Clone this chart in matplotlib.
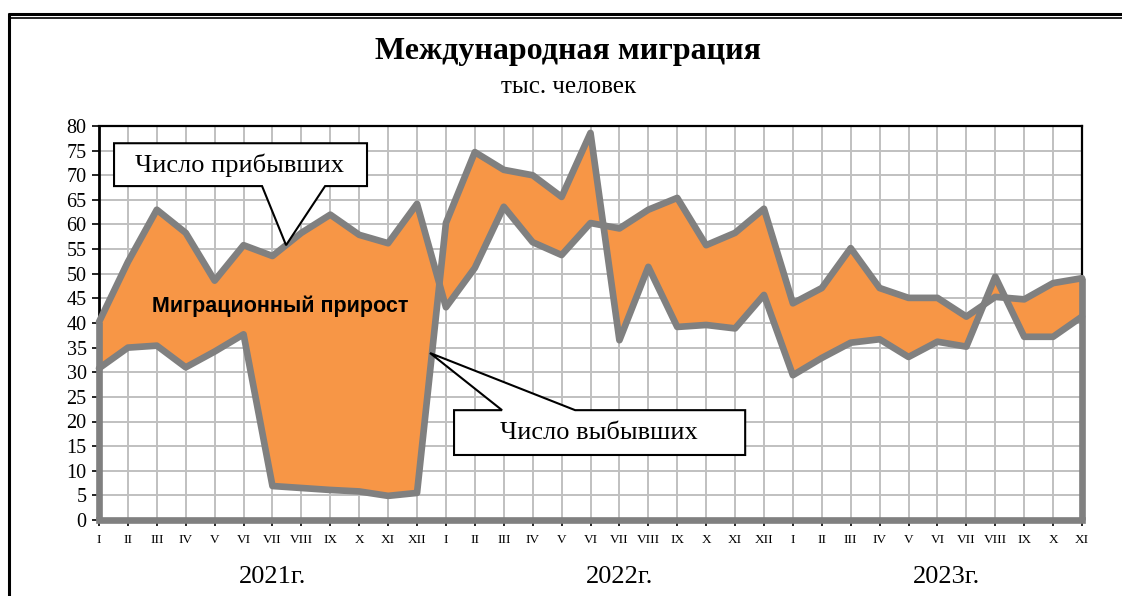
import matplotlib
matplotlib.use("Agg")
import matplotlib.pyplot as plt
from matplotlib.patches import Polygon
from matplotlib.lines import Line2D
import matplotlib.transforms as mtransforms
import numpy as np

# ---- data ----
months = ["I", "II", "III", "IV", "V", "VI", "VII", "VIII", "IX", "X", "XI", "XII"]
tick_labels = months + months + months[:11]
years = ["2021г.", "2022г.", "2023г."]
year_pos = [6, 18, 29.3]

arrivals = [40.2, 52.4, 63.0, 58.3, 48.6, 55.8, 53.6, 58.3, 62.0, 57.9, 56.2, 64.2,
            43.2, 51.2, 63.6, 56.4, 53.8, 60.3, 59.2, 63.0, 65.4, 55.8, 58.3, 63.2,
            44.0, 47.1, 55.2, 47.1, 45.1, 45.1, 41.3, 45.3, 44.8, 48.1, 49.1]
departures = [30.8, 35.0, 35.4, 31.0, 34.2, 37.7, 6.9, 6.5, 6.1, 5.8, 4.9, 5.5,
              60.3, 74.7, 71.1, 70.0, 65.6, 78.6, 36.5, 51.4, 39.2, 39.6, 38.9, 45.7,
              29.4, 32.9, 36.0, 36.7, 33.1, 36.2, 35.2, 49.4, 37.2, 37.2, 41.3]

title = "Международная миграция"
subtitle = "тыс. человек"
label_arr = "Число прибывших"
label_dep = "Число выбывших"
label_net = "Миграционный прирост"

SERIF = ["Liberation Serif", "DejaVu Serif"]
SANS = ["Liberation Sans", "DejaVu Sans"]
ORANGE = "#F79646"
GREY = "#808080"
GRID = "#C0C0C0"

W, H = 1122, 596
fig = plt.figure(figsize=(W / 100, H / 100), dpi=100)

def fx(px):
    return px / W

def fy(py):
    return 1 - py / H

ax = fig.add_axes([fx(99), fy(520), fx(1082) - fx(99), fy(126) - fy(520)])

x = np.arange(len(arrivals))
a = np.array(arrivals)
d = np.array(departures)
LW = 4.8

ax.fill_between(x, a, d, color=ORANGE, lw=0, zorder=2)
# area outlines (left, bottom, right edges)
ax.plot([x[0], x[0]], [0, max(a[0], d[0])], color=GREY, lw=LW, zorder=3,
        solid_capstyle="butt", clip_on=False)
ax.plot([x[-1], x[-1]], [0, max(a[-1], d[-1])], color=GREY, lw=LW, zorder=3,
        solid_capstyle="butt", clip_on=False)
ax.plot([x[0], x[-1]], [0, 0], color=GREY, lw=LW, zorder=3, clip_on=False)
ax.plot(x, a, color=GREY, lw=LW, zorder=4, solid_joinstyle="round",
        solid_capstyle="round", clip_on=False)
ax.plot(x, d, color=GREY, lw=LW, zorder=4, solid_joinstyle="round",
        solid_capstyle="round", clip_on=False)

ax.set_xlim(0, len(arrivals) - 1)
ax.set_ylim(0, 80)
ax.set_xticks(x)
ax.set_xticklabels(tick_labels, fontfamily=SERIF, fontsize=9.5)
ax.set_yticks(np.arange(0, 81, 5))
ax.set_yticklabels([str(v) for v in range(0, 81, 5)], fontfamily=SERIF, fontsize=14.5)
ax.tick_params(axis="y", direction="out", length=5, width=1.2, pad=4, colors="black")
ax.tick_params(axis="x", direction="out", length=4, width=1.2, pad=6, colors="black")
ax.grid(True, color=GRID, lw=1.4, zorder=0)
ax.set_axisbelow(True)
for s in ["left", "top", "right", "bottom"]:
    ax.spines[s].set_color("black")
    ax.spines[s].set_linewidth(1.6)
ax.spines["bottom"].set_linewidth(2.2)
ax.spines["left"].set_linewidth(2.0)

# year labels
trans = mtransforms.blended_transform_factory(ax.transData, fig.transFigure)
for yl, xp in zip(years, year_pos):
    ax.text(xp, fy(577), yl, transform=trans, ha="center", va="center",
            fontfamily=SERIF, fontsize=19)

# net migration label
ax.text(6.26, 43.5, label_net, ha="center", va="center", fontfamily=SANS,
        fontweight="bold", fontsize=15.5, zorder=6)

# callouts
def callout(box, base, tip, text_xy, text, top_edge=False):
    x0, x1, y0, y1 = box
    if top_edge:
        pts = [(x0, y0), (x1, y0), (x1, y1), (base[1], y1), tip, (base[0], y1), (x0, y1)]
    else:
        pts = [(x0, y1), (x1, y1), (x1, y0), (base[1], y0), tip, (base[0], y0), (x0, y0)]
    poly = Polygon(pts, closed=True, facecolor="white", edgecolor="black", lw=1.5,
                   zorder=8, joinstyle="miter")
    ax.add_patch(poly)
    ax.text(text_xy[0], text_xy[1], text, ha="center", va="center",
            fontfamily=SERIF, fontsize=19, zorder=9)

callout((0.52, 9.27, 67.8, 76.5), (5.64, 7.82), (6.47, 55.8), (4.86, 72.0), label_arr)
callout((12.28, 22.35, 13.2, 22.3), (13.94, 16.47), (11.45, 33.9), (17.28, 17.6),
        label_dep, top_edge=True)

# titles
fig.text(fx(568), fy(52), title, ha="center", va="center", fontfamily=SERIF,
         fontweight="bold", fontsize=23)
fig.text(fx(569), fy(87), subtitle, ha="center", va="center", fontfamily=SERIF,
         fontsize=18)

# page frame
fig.add_artist(Line2D([fx(8.5), fx(8.5)], [fy(13), 0], color="black", lw=2.2,
                      transform=fig.transFigure, solid_capstyle="butt"))
fig.add_artist(Line2D([fx(7.5), 1], [fy(13.5), fy(13.5)], color="black", lw=2.2,
                      transform=fig.transFigure, solid_capstyle="butt"))
fig.add_artist(Line2D([fx(10), 1], [fy(17.5), fy(17.5)], color="black", lw=1.2,
                      transform=fig.transFigure, solid_capstyle="butt"))

fig.savefig("out.png", dpi=100)
